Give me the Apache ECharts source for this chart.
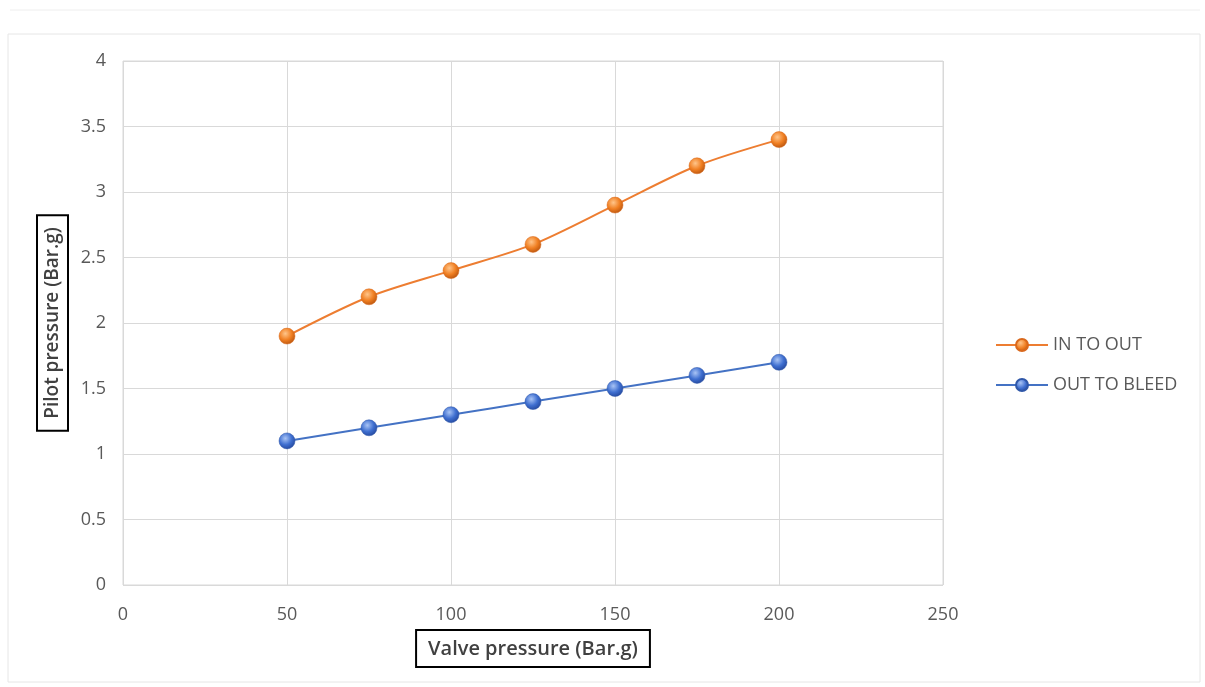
<!DOCTYPE html>
<html>
<head>
<meta charset="utf-8">
<script src="https://cdn.jsdelivr.net/npm/echarts@6/dist/echarts.min.js"></script>
<style>
html,body{margin:0;padding:0;background:#fff;}
#c{width:1205px;height:687px;}
</style>
</head>
<body>
<div id="c"></div>
<script>
const valvePressure = [50, 75, 100, 125, 150, 175, 200];
const inToOut = [1.9, 2.2, 2.4, 2.6, 2.9, 3.2, 3.4];
const outToBleed = [1.1, 1.2, 1.3, 1.4, 1.5, 1.6, 1.7];
const seriesNames = ['IN TO OUT', 'OUT TO BLEED'];
const xAxisTitle = 'Valve pressure (Bar.g)';
const yAxisTitle = 'Pilot pressure (Bar.g)';

const FONT = '"Open Sans", Lato, sans-serif';

function ball(light, mid, dark) {
  return {
    type: 'radial', x: 0.4, y: 0.35, r: 0.7,
    colorStops: [
      {offset: 0, color: light},
      {offset: 0.55, color: mid},
      {offset: 1, color: dark}
    ]
  };
}

const chart = echarts.init(document.getElementById('c'));
chart.setOption({
  backgroundColor: '#ffffff',
  animation: false,
  graphic: [
    {type: 'rect', shape: {x: 8, y: 34, width: 1192, height: 648}, style: {fill: 'none', stroke: '#e6e6e6', lineWidth: 1}, silent: true},
    {type: 'line', shape: {x1: 10, y1: 10, x2: 1200, y2: 10}, style: {stroke: '#eeeeee', lineWidth: 1}, silent: true}
  ],
  grid: {left: 123, top: 61, width: 820, height: 524, show: true, borderColor: '#d9d9d9', borderWidth: 1},
  legend: {
    orient: 'vertical', left: 990, top: 331, itemGap: 22, itemWidth: 52, itemHeight: 15,
    textStyle: {fontFamily: FONT, fontSize: 18, color: '#595959'},
    data: seriesNames
  },
  xAxis: {
    type: 'value', min: 0, max: 250, interval: 50,
    name: xAxisTitle, nameLocation: 'middle', nameGap: 45,
    nameTextStyle: {fontFamily: FONT, fontSize: 20, fontWeight: 600, color: '#404040',
      borderColor: '#000', borderWidth: 2, padding: [9, 12, 8, 12]},
    axisLine: {show: false}, axisTick: {show: false},
    axisLabel: {fontFamily: FONT, fontSize: 18, color: '#595959', margin: 21},
    splitLine: {show: true, lineStyle: {color: '#d9d9d9', width: 1}}
  },
  yAxis: {
    type: 'value', min: 0, max: 4, interval: 0.5,
    name: yAxisTitle, nameLocation: 'middle', nameGap: 55, nameRotate: 90,
    nameTextStyle: {fontFamily: FONT, fontSize: 19, fontWeight: 600, color: '#404040',
      borderColor: '#000', borderWidth: 2, padding: [6, 12, 6, 12]},
    axisLine: {show: false}, axisTick: {show: false},
    axisLabel: {fontFamily: FONT, fontSize: 18, color: '#595959', margin: 17},
    splitLine: {show: true, lineStyle: {color: '#d9d9d9', width: 1}}
  },
  series: [
    {
      name: seriesNames[0], type: 'line', smooth: 0.3,
      data: valvePressure.map((x, i) => [x, inToOut[i]]),
      symbol: 'circle', symbolSize: 16,
      lineStyle: {color: '#ED7D31', width: 2},
      itemStyle: {color: ball('#ffc58a', '#f07f22', '#b5520e'), borderColor: '#d9681c', borderWidth: 0.5}
    },
    {
      name: seriesNames[1], type: 'line', smooth: 0.3,
      data: valvePressure.map((x, i) => [x, outToBleed[i]]),
      symbol: 'circle', symbolSize: 16,
      lineStyle: {color: '#4472C4', width: 2},
      itemStyle: {color: ball('#a9c4f5', '#3f6fd0', '#23469a'), borderColor: '#2f57a8', borderWidth: 0.5}
    }
  ]
});
</script>
</body>
</html>
